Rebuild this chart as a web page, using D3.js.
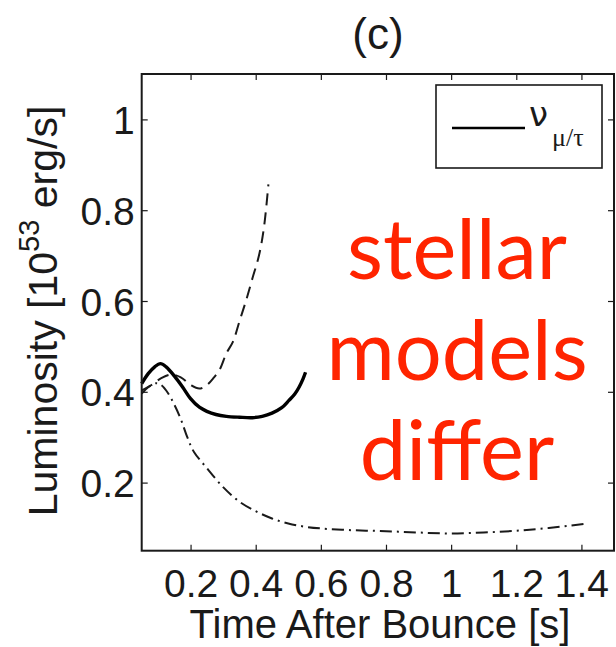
<!DOCTYPE html>
<html><head><meta charset="utf-8">
<script src="https://cdn.jsdelivr.net/npm/d3@7"></script>
<style>body{margin:0;background:#fff}</style>
</head><body>
<svg id="c" width="616" height="647"></svg>
<script>
// ---- data ----
const xTicks = [0.2, 0.4, 0.6, 0.8, 1, 1.2, 1.4];
const yTicks = [0.2, 0.4, 0.6, 0.8, 1];
const muTauTime = [0.05,0.07,0.09,0.1075,0.125,0.15,0.176,0.2,0.227,0.25,0.278,0.31,0.35,0.39,0.42,0.45,0.48,0.502,0.52,0.533,0.545,0.553];
const muTauLum  = [0.418,0.44,0.455,0.462,0.455,0.435,0.41,0.385,0.366,0.357,0.35,0.346,0.344,0.343,0.346,0.353,0.365,0.381,0.395,0.41,0.428,0.443];
const dashTime = [0.05,0.08,0.11,0.14,0.17,0.2,0.227,0.25,0.27,0.29,0.31,0.33,0.35,0.37,0.39,0.41,0.425,0.439];
const dashLum  = [0.403,0.415,0.43,0.438,0.432,0.415,0.407,0.415,0.43,0.45,0.485,0.51,0.555,0.60,0.65,0.70,0.76,0.857];
const dashDotTime = [0.05,0.07,0.095,0.11,0.13,0.15,0.17,0.19,0.21,0.25,0.3,0.35,0.4,0.45,0.5,0.55,0.6,0.7,0.8,0.9,1.0,1.1,1.2,1.3,1.41];
const dashDotLum  = [0.396,0.41,0.419,0.415,0.398,0.372,0.34,0.3,0.268,0.232,0.19,0.158,0.137,0.121,0.11,0.103,0.099,0.095,0.093,0.09,0.088,0.09,0.094,0.1,0.109];
const xDomain = [0.05, 1.5];
const yDomain = [0.05, 1.1];
const annotation = ["stellar", "models", "differ"];

const svg = d3.select("#c");
const L = 141.7, R = 614, T = 74, B = 550.7;
const x = d3.scaleLinear().domain(xDomain).range([L, R]);
const y = d3.scaleLinear().domain(yDomain).range([B, T]);
const axisFont = "'Liberation Sans', Arial, Helvetica, sans-serif";
const ink = "#1a1a1a";

// lines
const line = (xs, ys) => d3.line().x((d,i)=>x(xs[i])).y((d,i)=>y(ys[i])).curve(d3.curveCatmullRom.alpha(0.5))(xs);
svg.append("path").attr("d", line(dashDotTime, dashDotLum)).attr("fill","none")
  .attr("stroke", ink).attr("stroke-width", 2).attr("stroke-dasharray","12,5,2,5");
svg.append("path").attr("d", line(dashTime, dashLum)).attr("fill","none")
  .attr("stroke", ink).attr("stroke-width", 2).attr("stroke-dasharray","12,7");
svg.append("path").attr("d", line(muTauTime, muTauLum)).attr("fill","none")
  .attr("stroke", "#000").attr("stroke-width", 3.4).attr("stroke-linejoin","round");

// axes
function styleAxis(g){
  g.select(".domain").remove();
  g.selectAll(".tick line").attr("stroke", ink).attr("stroke-width",1.2);
  g.selectAll("text").attr("font-family", axisFont).attr("font-size", 39).attr("fill", ink);
}
const fmt = d => String(d);
svg.append("g").attr("transform",`translate(0,${B})`)
  .call(d3.axisBottom(x).tickValues(xTicks).tickFormat(fmt).tickSizeInner(-6).tickSizeOuter(0))
  .call(styleAxis)
  .call(g => g.selectAll(".tick text").attr("y", 46).attr("dy", null));
svg.append("g").attr("transform",`translate(0,${T})`)
  .call(d3.axisTop(x).tickValues(xTicks).tickFormat("").tickSizeInner(-6).tickSizeOuter(0))
  .call(styleAxis);
svg.append("g").attr("transform",`translate(${L},0)`)
  .call(d3.axisLeft(y).tickValues(yTicks).tickFormat(fmt).tickSizeInner(-6).tickSizeOuter(0).tickPadding(7))
  .call(styleAxis)
  .call(g => g.selectAll(".tick text").attr("dy", "0.36em"));
svg.append("g").attr("transform",`translate(${R},0)`)
  .call(d3.axisRight(y).tickValues(yTicks).tickFormat("").tickSizeInner(-6).tickSizeOuter(0))
  .call(styleAxis);
// frame
svg.append("rect").attr("x",L).attr("y",T).attr("width",R-L).attr("height",B-T)
  .attr("fill","none").attr("stroke", ink).attr("stroke-width",2);

// title
svg.append("text").attr("x",378).attr("y",49).attr("text-anchor","middle")
  .attr("font-family",axisFont).attr("font-size",44).attr("fill",ink).text("(c)");

// x label
svg.append("text").attr("x",380).attr("y",638).attr("text-anchor","middle")
  .attr("font-family",axisFont).attr("font-size",40).attr("fill",ink).text("Time After Bounce [s]");

// y label
const yl = svg.append("text").attr("transform","translate(57,311) rotate(-90)").attr("text-anchor","middle")
  .attr("font-family",axisFont).attr("font-size",41).attr("fill",ink);
yl.append("tspan").text("Luminosity [10");
yl.append("tspan").attr("dy",-18).attr("font-size",29).text("53");
yl.append("tspan").attr("dy",18).text(" erg/s]");

// legend
svg.append("rect").attr("x",436).attr("y",85).attr("width",166).attr("height",83)
  .attr("fill","#fff").attr("stroke",ink).attr("stroke-width",1.6);
svg.append("line").attr("x1",452).attr("x2",525).attr("y1",128).attr("y2",128)
  .attr("stroke","#000").attr("stroke-width",2.6);
const lt = svg.append("text").attr("x",529).attr("y",126)
  .attr("font-family","'DejaVu Sans', sans-serif").attr("fill",ink);
lt.append("tspan").attr("font-size",34).text("ν");
lt.append("tspan").attr("x",552).attr("y",146).attr("font-size",26).attr("font-family","'Liberation Serif', serif").text("μ/τ");

// annotation
svg.append("g").selectAll("text").data(annotation).join("text")
  .attr("x",457).attr("y",(d,i)=>279+i*100.5).attr("text-anchor","middle")
  .attr("font-family","Lato, 'Open Sans', sans-serif").attr("font-size",83)
  .attr("fill","#ff2400").text(d=>d);
</script>
</body></html>
